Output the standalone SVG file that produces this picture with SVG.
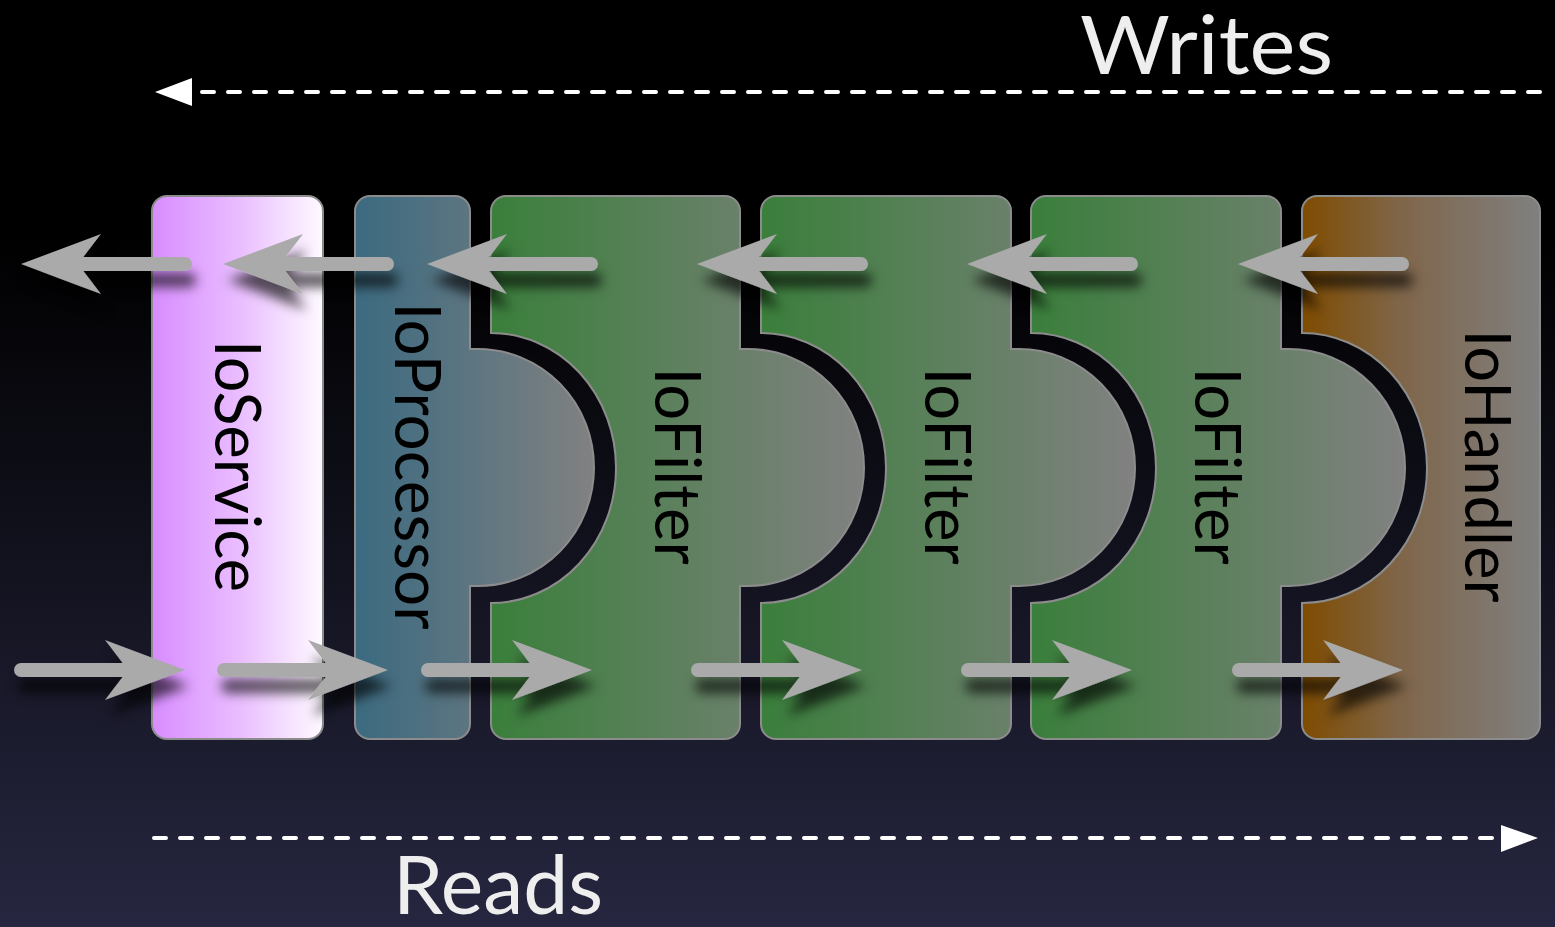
<svg xmlns="http://www.w3.org/2000/svg" xmlns:xlink="http://www.w3.org/1999/xlink" width="1555" height="927" viewBox="0 0 1555 927">
<defs>
<linearGradient id="bg" x1="0" y1="0" x2="0" y2="1">
<stop offset="0" stop-color="#000"/>
<stop offset="0.25" stop-color="#000"/>
<stop offset="1" stop-color="#262640"/>
</linearGradient>
<linearGradient id="gSvc" x1="0" y1="0" x2="1" y2="0">
<stop offset="0" stop-color="#d88cff"/>
<stop offset="0.5" stop-color="#e9bcff"/>
<stop offset="1" stop-color="#fefaff"/>
</linearGradient>
<linearGradient id="gProc" x1="0" y1="0" x2="1" y2="0">
<stop offset="0" stop-color="#3b6a80"/>
<stop offset="1" stop-color="#818181"/>
</linearGradient>
<linearGradient id="gFilt" x1="0" y1="0" x2="1" y2="0">
<stop offset="0" stop-color="#3a7f3b"/>
<stop offset="1" stop-color="#818181"/>
</linearGradient>
<linearGradient id="gHand" x1="0" y1="0" x2="1" y2="0">
<stop offset="0" stop-color="#7f4c00"/>
<stop offset="0.4" stop-color="#7f6548"/>
<stop offset="1" stop-color="#808080"/>
</linearGradient>
<filter id="shadow" x="-20%" y="-60%" width="140%" height="260%">
<feGaussianBlur in="SourceAlpha" stdDeviation="6"/>
<feOffset dx="4" dy="16" result="b"/>
<feFlood flood-color="#000" flood-opacity="0.65"/>
<feComposite in2="b" operator="in"/>
<feMerge><feMergeNode/><feMergeNode in="SourceGraphic"/></feMerge>
</filter>
<g id="arrowL">
<line x1="50" y1="0" x2="164" y2="0" stroke="#aaaaaa" stroke-width="14" stroke-linecap="round"/>
<path d="M0,0 L80,-30 L57,0 L80,30 Z" fill="#aaaaaa"/>
</g>
<g id="arrowR">
<line x1="-50" y1="0" x2="-164" y2="0" stroke="#aaaaaa" stroke-width="14" stroke-linecap="round"/>
<path d="M0,0 L-80,-30 L-57,0 L-80,30 Z" fill="#aaaaaa"/>
</g>
</defs>
<style>
.node { stroke: #8c8c8c; stroke-width: 2; }
.label { font-family: Lato, "Liberation Sans", sans-serif; font-size: 64px; fill: #000; }
.title { font-family: Lato, "Liberation Sans", sans-serif; font-size: 82px; fill: #eeeeee; }
.dash { stroke: #ffffff; stroke-width: 4; stroke-dasharray: 12 14; stroke-linecap: round; fill: none; }
</style>
<rect x="0" y="0" width="1555" height="927" fill="url(#bg)"/>

<g id="writes">
<text class="title" x="1080" y="74" textLength="253" lengthAdjust="spacingAndGlyphs">Writes</text>
</g>
<g id="reads">
<text class="title" x="393" y="914" textLength="210" lengthAdjust="spacingAndGlyphs">Reads</text>
</g>

<g id="ioservice">
<rect class="node" x="152" y="196" width="171" height="543" rx="15" fill="url(#gSvc)" stroke="#a8a8a8" stroke-width="3"/>
<text class="label" transform="translate(215,466) rotate(90)" text-anchor="middle" textLength="252" lengthAdjust="spacingAndGlyphs">IoService</text>
</g>

<g id="ioprocessor">
<path class="node" fill="url(#gProc)" d="M370,196 H455 A15,15 0 0 1 470,211 V349 H478 A116,118.5 0 0 1 478,586 H470 V724 A15,15 0 0 1 455,739 H370 A15,15 0 0 1 355,724 V211 A15,15 0 0 1 370,196 Z"/>
<text class="label" transform="translate(395,466) rotate(90)" text-anchor="middle" textLength="327" lengthAdjust="spacingAndGlyphs">IoProcessor</text>
</g>

<g id="iofilter1">
<path class="node" fill="url(#gFilt)" d="M506,196 H725 A15,15 0 0 1 740,211 V349 H748 A116,118.5 0 0 1 748,586 H740 V724 A15,15 0 0 1 725,739 H506 A15,15 0 0 1 491,724 V603 A125,135 0 0 0 491,333 V211 A15,15 0 0 1 506,196 Z"/>
<text class="label" transform="translate(655,466) rotate(90)" text-anchor="middle" textLength="197" lengthAdjust="spacingAndGlyphs">IoFilter</text>
</g>

<g id="iofilter2">
<path class="node" fill="url(#gFilt)" d="M776,196 H996 A15,15 0 0 1 1011,211 V349 H1019 A116,118.5 0 0 1 1019,586 H1011 V724 A15,15 0 0 1 996,739 H776 A15,15 0 0 1 761,724 V603 A125,135 0 0 0 761,333 V211 A15,15 0 0 1 776,196 Z"/>
<text class="label" transform="translate(925,466) rotate(90)" text-anchor="middle" textLength="197" lengthAdjust="spacingAndGlyphs">IoFilter</text>
</g>

<g id="iofilter3">
<path class="node" fill="url(#gFilt)" d="M1046,196 H1266 A15,15 0 0 1 1281,211 V349 H1289 A116,118.5 0 0 1 1289,586 H1281 V724 A15,15 0 0 1 1266,739 H1046 A15,15 0 0 1 1031,724 V603 A125,135 0 0 0 1031,333 V211 A15,15 0 0 1 1046,196 Z"/>
<text class="label" transform="translate(1195,466) rotate(90)" text-anchor="middle" textLength="197" lengthAdjust="spacingAndGlyphs">IoFilter</text>
</g>

<g id="iohandler">
<path class="node" fill="url(#gHand)" d="M1317,196 H1525 A15,15 0 0 1 1540,211 V724 A15,15 0 0 1 1525,739 H1317 A15,15 0 0 1 1302,724 V603 A125,135 0 0 0 1302,333 V211 A15,15 0 0 1 1317,196 Z"/>
<text class="label" transform="translate(1465,466) rotate(90)" text-anchor="middle" textLength="273" lengthAdjust="spacingAndGlyphs">IoHandler</text>
</g>

<g id="connectors">
<line class="dash" x1="1540" y1="92" x2="200" y2="92"/>
<polygon points="155,92 192,78 192,106" fill="#ffffff"/>
<line class="dash" x1="154" y1="838" x2="1494" y2="838"/>
<polygon points="1538,838 1501,825 1501,852" fill="#ffffff"/>
<g filter="url(#shadow)">
<use xlink:href="#arrowL" x="21" y="264"/>
<use xlink:href="#arrowL" x="223" y="264"/>
<use xlink:href="#arrowL" x="427" y="264"/>
<use xlink:href="#arrowL" x="697" y="264"/>
<use xlink:href="#arrowL" x="967" y="264"/>
<use xlink:href="#arrowL" x="1238" y="264"/>
<use xlink:href="#arrowR" x="185" y="670"/>
<use xlink:href="#arrowR" x="388" y="670"/>
<use xlink:href="#arrowR" x="592" y="670"/>
<use xlink:href="#arrowR" x="862" y="670"/>
<use xlink:href="#arrowR" x="1132" y="670"/>
<use xlink:href="#arrowR" x="1403" y="670"/>
</g>
</g>
</svg>
